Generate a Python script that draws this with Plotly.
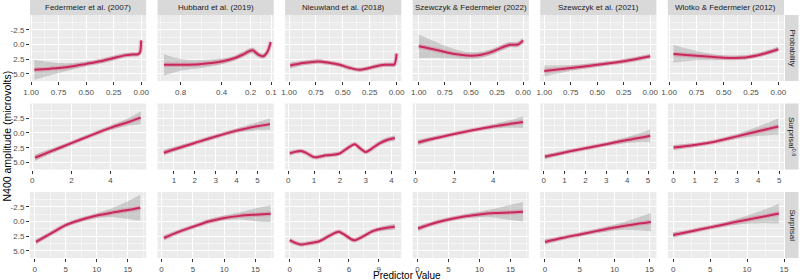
import numpy as np
import plotly.graph_objects as go
from plotly.subplots import make_subplots

# ---------------- data ----------------
studies = ["Federmeier et al. (2007)", "Hubbard et al. (2019)", "Nieuwland et al. (2018)",
           "Szewczyk & Federmeier (2022)", "Szewczyk et al. (2021)", "Wlotko & Federmeier (2012)"]
predictors = ["Probability", "Surprisal<sup>0.6</sup>", "Surprisal"]

# Row 1: Probability (x), fitted N400 (y), ribbon half-width (band)
fed_p_x = [0.97, 0.85, 0.75, 0.62, 0.5, 0.37, 0.25, 0.15, 0.08, 0.03, 0.012, 0.0]
fed_p_y = [4.3, 4.15, 4.0, 3.7, 3.3, 2.85, 2.3, 1.85, 1.7, 1.65, 1.4, -0.7]
fed_p_b = [1.7, 1.2, 0.85, 0.55, 0.4, 0.4, 0.4, 0.35, 0.3, 0.3, 0.3, 0.4]

hub_p_x = [1.0, 0.8, 0.6, 0.4, 0.3, 0.25, 0.19, 0.16, 0.135, 0.115, 0.102]
hub_p_y = [3.45, 3.45, 3.35, 2.9, 2.3, 1.75, 1.0, 1.7, 2.0, 1.2, -0.4]
hub_p_b = [1.8, 1.0, 0.7, 0.5, 0.4, 0.45, 0.5, 0.45, 0.4, 0.45, 0.5]

nie_p_x = [0.99, 0.87, 0.73, 0.63, 0.53, 0.44, 0.35, 0.255, 0.16, 0.1, 0.05, 0.02, 0.0]
nie_p_y = [3.57, 3.15, 2.88, 3.1, 3.45, 3.95, 4.3, 4.0, 3.57, 3.45, 3.45, 3.4, 1.55]
nie_p_b = [0.5, 0.4, 0.35, 0.3, 0.3, 0.3, 0.3, 0.3, 0.3, 0.3, 0.35, 0.4, 0.45]

s22_p_x = [1.0, 0.85, 0.73, 0.6, 0.5, 0.4, 0.3, 0.2, 0.13, 0.05, 0.0]
s22_p_y = [0.3, 0.85, 1.35, 1.75, 1.9, 1.75, 1.25, 0.5, 0.05, 0.0, -0.7]
s22_p_b = [2.0, 1.4, 1.0, 0.7, 0.6, 0.55, 0.5, 0.5, 0.45, 0.45, 0.5]

s21_p_x = [1.0, 0.75, 0.5, 0.25, 0.0]
s21_p_y = [4.5, 4.0, 3.45, 2.85, 2.0]
s21_p_b = [0.93, 0.5, 0.35, 0.35, 0.4]

wlo_p_x = [0.96, 0.75, 0.5, 0.3, 0.15, 0.0]
wlo_p_y = [1.6, 1.9, 2.25, 2.2, 1.65, 0.8]
wlo_p_b = [1.5, 0.8, 0.4, 0.35, 0.35, 0.4]

# Row 2: Surprisal^0.6
fed_s6_x = [0.14, 1, 2, 3, 4, 5, 5.55]
fed_s6_y = [4.2, 3.05, 1.73, 0.4, -0.87, -1.95, -2.6]
fed_s6_b = [0.55, 0.4, 0.3, 0.3, 0.35, 0.7, 1.1]

hub_s6_x = [0.52, 1, 2, 3, 4, 5, 5.6]
hub_s6_y = [3.35, 2.8, 1.7, 0.6, -0.4, -1.15, -1.5]
hub_s6_b = [0.5, 0.4, 0.3, 0.3, 0.35, 0.7, 1.0]

nie_s6_x = [0.06, 0.3, 0.49, 0.68, 1.0, 1.2, 1.46, 1.97, 2.23, 2.58, 2.75, 3.0, 3.2, 3.52, 3.85, 4.13]
nie_s6_y = [3.46, 3.17, 3.06, 3.35, 4.1, 4.04, 3.8, 3.52, 2.77, 1.9, 2.48, 3.23, 2.77, 1.79, 1.15, 0.87]
nie_s6_b = [0.4, 0.3, 0.3, 0.3, 0.3, 0.3, 0.3, 0.3, 0.3, 0.3, 0.3, 0.3, 0.3, 0.35, 0.4, 0.5]

s22_s6_x = [0.14, 1, 2, 3, 4, 5, 5.54]
s22_s6_y = [1.62, 0.9, 0.17, -0.5, -1.1, -1.6, -1.85]
s22_s6_b = [0.45, 0.3, 0.25, 0.25, 0.35, 0.7, 1.0]

s21_s6_x = [0.06, 1, 2, 3, 4, 5, 5.1]
s21_s6_y = [4.04, 3.3, 2.6, 1.9, 1.2, 0.55, 0.46]
s21_s6_b = [0.4, 0.3, 0.25, 0.3, 0.5, 1.0, 1.15]

wlo_s6_x = [0.0, 1, 2, 3, 4, 4.95]
wlo_s6_y = [2.48, 2.05, 1.44, 0.58, -0.29, -1.1]
wlo_s6_b = [0.45, 0.3, 0.25, 0.4, 0.8, 1.4]

# Row 3: Surprisal
fed_s_x = [0.2, 2.5, 5, 7.5, 10, 12.5, 15, 17]
fed_s_y = [3.47, 2.1, 0.62, -0.3, -1.0, -1.5, -1.93, -2.33]
fed_s_b = [0.45, 0.3, 0.3, 0.35, 0.4, 0.8, 1.5, 2.2]

hub_s_x = [0.37, 2.5, 5, 7.5, 10, 12.5, 15, 17.4]
hub_s_y = [2.8, 1.85, 0.9, 0.0, -0.6, -0.95, -1.15, -1.3]
hub_s_b = [0.45, 0.3, 0.3, 0.35, 0.4, 0.6, 1.1, 1.4]

nie_s_x = [0, 0.5, 1.1, 1.96, 3, 4, 4.96, 5.5, 6.5, 7.36, 8.4, 9.4, 10.64]
nie_s_y = [3.18, 3.6, 3.9, 3.7, 3.35, 2.44, 1.76, 2.2, 3.18, 2.6, 1.65, 1.2, 0.9]
nie_s_b = [0.35, 0.3, 0.3, 0.3, 0.3, 0.3, 0.3, 0.3, 0.3, 0.3, 0.3, 0.35, 0.5]

s22_s_x = [0.1, 2.5, 5, 7.5, 10, 12.5, 15, 17]
s22_s_y = [1.2, 0.34, -0.34, -0.85, -1.2, -1.42, -1.53, -1.65]
s22_s_b = [0.45, 0.3, 0.3, 0.35, 0.5, 0.8, 1.3, 1.65]

s21_s_x = [0, 2.5, 5, 7.5, 10, 12.5, 15.2]
s21_s_y = [3.47, 2.8, 2.2, 1.6, 1.02, 0.55, 0.1]
s21_s_b = [0.45, 0.3, 0.3, 0.35, 0.5, 0.9, 1.55]

wlo_s_x = [0.0, 2.5, 5, 7.5, 10, 12.5, 14.3]
wlo_s_y = [2.3, 1.65, 1.0, 0.35, -0.3, -0.9, -1.35]
wlo_s_b = [0.45, 0.3, 0.3, 0.4, 0.7, 1.2, 1.7]

hub_prob_ticks = [0.8, 0.4, 0.2, 0.1]
y_ticks = [-2.5, 0.0, 2.5, 5.0]
y_ticktext = ["-2.5", "0.0", "2.5", "5.0"]

panels = [
    [(fed_p_x, fed_p_y, fed_p_b), (hub_p_x, hub_p_y, hub_p_b), (nie_p_x, nie_p_y, nie_p_b),
     (s22_p_x, s22_p_y, s22_p_b), (s21_p_x, s21_p_y, s21_p_b), (wlo_p_x, wlo_p_y, wlo_p_b)],
    [(fed_s6_x, fed_s6_y, fed_s6_b), (hub_s6_x, hub_s6_y, hub_s6_b), (nie_s6_x, nie_s6_y, nie_s6_b),
     (s22_s6_x, s22_s6_y, s22_s6_b), (s21_s6_x, s21_s6_y, s21_s6_b), (wlo_s6_x, wlo_s6_y, wlo_s6_b)],
    [(fed_s_x, fed_s_y, fed_s_b), (hub_s_x, hub_s_y, hub_s_b), (nie_s_x, nie_s_y, nie_s_b),
     (s22_s_x, s22_s_y, s22_s_b), (s21_s_x, s21_s_y, s21_s_b), (wlo_s_x, wlo_s_y, wlo_s_b)],
]

# axis settings per panel: (range, dtick, minor dtick)
x_axes = [
    [([1.01, -0.045], 0.25, 0.125), None, ([1.037, -0.044], 0.25, 0.125),
     ([1.058, -0.055], 0.25, 0.125), ([1.038, -0.059], 0.25, 0.125), ([1.012, -0.052], 0.25, 0.125)],
    [([-0.12, 5.83], 2, 1), ([0.22, 5.78], 1, 0.5), ([-0.12, 4.38], 1, 0.5),
     ([-0.14, 5.84], 2, 1), ([-0.16, 5.4], 1, 0.5), ([-0.27, 5.22], 1, 0.5)],
    [([-0.76, 17.95], 5, 2.5), ([-0.64, 17.9], 5, 2.5), ([-0.47, 11.3], 3, 1.5),
     ([-0.76, 17.95], 5, 2.5), ([-0.67, 16.0], 5, 2.5), ([-0.72, 15.0], 5, 2.5)],
]

# ---------------- figure ----------------
W, H = 800, 280
ml, mr, mt, mb = 30, 16, 15, 22
pw, ph = W - ml - mr, H - mt - mb
fig = make_subplots(rows=3, cols=6, horizontal_spacing=11.4 / pw, vertical_spacing=22.5 / ph)

LINE = "#C8285A"
HALO = "rgba(222,95,135,0.35)"
RIB = "rgba(153,153,153,0.4)"
FONT = "Liberation Sans, Arial, sans-serif"

for r in range(3):
    for c in range(6):
        xs, ys, bs = panels[r][c]
        xs = np.array(xs, dtype=float)
        if r == 0 and c == 1:
            xs = np.sqrt(xs)
        ys = np.array(ys, dtype=float)
        bs = np.array(bs, dtype=float)
        lo, hi = ys - bs, ys + bs
        fig.add_trace(go.Scatter(x=xs, y=lo, mode="lines", line=dict(width=0, shape="spline", smoothing=0.8),
                                 hoverinfo="skip", showlegend=False), row=r + 1, col=c + 1)
        fig.add_trace(go.Scatter(x=xs, y=hi, mode="lines", line=dict(width=0, shape="spline", smoothing=0.8),
                                 fill="tonexty", fillcolor=RIB, hoverinfo="skip", showlegend=False),
                      row=r + 1, col=c + 1)
        fig.add_trace(go.Scatter(x=xs, y=ys, mode="lines", line=dict(color=HALO, width=4.5, shape="spline", smoothing=0.8),
                                 hoverinfo="skip", showlegend=False), row=r + 1, col=c + 1)
        fig.add_trace(go.Scatter(x=xs, y=ys, mode="lines", line=dict(color=LINE, width=2, shape="spline", smoothing=0.8),
                                 showlegend=False), row=r + 1, col=c + 1)

        common = dict(showline=False, zeroline=False, showgrid=True, gridcolor="white", gridwidth=1,
                      ticks="outside", ticklen=3, tickwidth=1, tickcolor="#333333", automargin=False,
                      tickfont=dict(size=8, color="#4D4D4D", family=FONT))
        if r == 0 and c == 1:
            tv = list(np.sqrt(hub_prob_ticks))
            mv = [(tv[i] + tv[i + 1]) / 2 for i in range(len(tv) - 1)] + [tv[0] + (tv[0] - tv[1]) / 2]
            fig.update_xaxes(range=[1.041, 0.300], tickmode="array", tickvals=tv,
                             ticktext=[f"{v:g}" for v in hub_prob_ticks],
                             minor=dict(tickmode="array", tickvals=mv, showgrid=True, gridcolor="white",
                                        gridwidth=0.5, ticks=""),
                             row=r + 1, col=c + 1, **common)
        else:
            rng, dt, mdt = x_axes[r][c]
            fmt = ".2f" if r == 0 else ""
            fig.update_xaxes(range=rng, tickmode="linear", tick0=0, dtick=dt, tickformat=fmt,
                             minor=dict(tickmode="linear", tick0=0, dtick=mdt, showgrid=True,
                                        gridcolor="white", gridwidth=0.5, ticks=""),
                             row=r + 1, col=c + 1, **common)
        yc = dict(common)
        if c > 0:
            yc["ticks"] = ""
        fig.update_yaxes(range=[6.2, -5.0], tickmode="array", tickvals=y_ticks, ticktext=y_ticktext,
                         showticklabels=(c == 0),
                         minor=dict(tickmode="linear", tick0=0, dtick=1.25, showgrid=True,
                                    gridcolor="white", gridwidth=0.5, ticks=""),
                         row=r + 1, col=c + 1, **yc)

# strips
strip_h = 15
row_h = (ph - 2 * 22.5) / 3
col_w = (pw - 5 * 11.4) / 6
for c in range(6):
    ax = "" if c == 0 else str(c + 1)
    fig.add_shape(type="rect", xref=f"x{ax} domain", yref=f"y{ax} domain", x0=0, x1=1,
                  y0=1, y1=1 + strip_h / row_h, fillcolor="#D9D9D9", line=dict(width=0), layer="below")
    fig.add_annotation(xref=f"x{ax} domain", yref=f"y{ax} domain", x=0.5, y=1 + strip_h / row_h / 2,
                       text=studies[c], showarrow=False, font=dict(size=8, color="#1A1A1A", family=FONT),
                       xanchor="center", yanchor="middle")
for r in range(3):
    idx = r * 6 + 6
    fig.add_shape(type="rect", xref=f"x{idx} domain", yref=f"y{idx} domain",
                  x0=1 + 1 / col_w, x1=1 + 14.5 / col_w, y0=0, y1=1,
                  fillcolor="#D9D9D9", line=dict(width=0), layer="below")
    fig.add_annotation(xref=f"x{idx} domain", yref=f"y{idx} domain", x=1 + 7.5 / col_w, y=0.5,
                       text=predictors[r], textangle=90, showarrow=False,
                       font=dict(size=8, color="#1A1A1A", family=FONT), xanchor="center", yanchor="middle")

fig.add_annotation(xref="paper", yref="paper", x=(6 - ml) / pw, y=0.5, text="N400 amplitude (microvolts)",
                   textangle=-90, showarrow=False, font=dict(size=10.5, color="black", family=FONT),
                   xanchor="center", yanchor="middle")
fig.add_annotation(xref="paper", yref="paper", x=(407 - ml) / pw, y=-(275.5 - (H - mb)) / ph,
                   text="Predictor Value", showarrow=False, font=dict(size=10, color="black", family=FONT),
                   xanchor="center", yanchor="middle")

fig.update_layout(width=W, height=H, margin=dict(l=ml, r=mr, t=mt, b=mb, autoexpand=False),
                  plot_bgcolor="#EBEBEB", paper_bgcolor="white", showlegend=False,
                  font=dict(family=FONT))
fig.write_html("out.html", config={"displayModeBar": False, "staticPlot": True},
               post_script="document.body.style.margin='0';document.body.style.padding='0';")
